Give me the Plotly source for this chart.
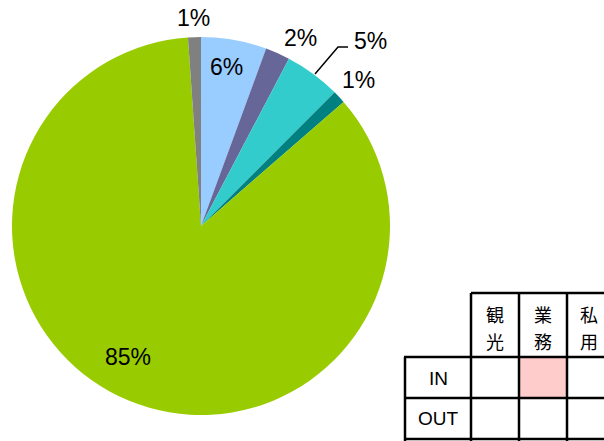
import plotly.graph_objects as go

# ---- data ----
slice_names = ["観光IN", "業務IN", "私用IN", "観光OUT", "業務OUT", "私用OUT"]
slice_values = [5.6, 2.1, 4.8, 1.1, 85.3, 1.1]
slice_labels = ["6%", "2%", "5%", "1%", "85%", "1%"]
slice_colors = ["#99CCFF", "#666699", "#33CCCC", "#008080", "#99CC00", "#808080"]

table_cols = [["観", "光"], ["業", "務"], ["私", "用"]]
table_rows = ["IN", "OUT"]

W, H = 604, 441


def px(x):
    return x / W


def py(y):
    return 1 - y / H


fig = go.Figure()
fig.add_trace(go.Pie(
    labels=slice_names,
    values=slice_values,
    marker=dict(colors=slice_colors, line=dict(width=0)),
    sort=False,
    direction="clockwise",
    rotation=0,
    textinfo="none",
    hoverinfo="label+percent",
    showlegend=False,
    domain=dict(x=[px(12), px(390)], y=[py(415), py(37)]),
))

label_pos = [(226, 67), (300, 38), (370, 41), (358, 80), (128, 357), (194, 18)]
annotations = []
for (x, y), t in zip(label_pos, slice_labels):
    annotations.append(dict(x=px(x), y=py(y), xref="paper", yref="paper", text=t,
                            showarrow=False, xanchor="center", yanchor="middle",
                            font=dict(size=23, color="black", family="Liberation Sans, Arial")))

shapes = []
# leader line for 5%
shapes.append(dict(type="path", xref="paper", yref="paper",
                   path=f"M {px(315)} {py(74)} L {px(338)} {py(47)} L {px(348)} {py(47)}",
                   line=dict(color="black", width=1.5)))

# table
lw = 2.5
shapes.append(dict(type="rect", xref="paper", yref="paper",
                   x0=px(519), x1=px(567), y0=py(398), y1=py(357),
                   fillcolor="#FFCCCC", line=dict(width=0), layer="below"))
col_x = [471, 519, 567, 615]
row_y = [293, 357, 398, 439]
shapes.append(dict(type="line", xref="paper", yref="paper", x0=px(471), x1=px(615),
                   y0=py(293), y1=py(293), line=dict(color="black", width=lw)))
for yy in row_y[1:]:
    shapes.append(dict(type="line", xref="paper", yref="paper", x0=px(404), x1=px(615),
                       y0=py(yy), y1=py(yy), line=dict(color="black", width=lw)))
shapes.append(dict(type="line", xref="paper", yref="paper", x0=px(405), x1=px(405),
                   y0=py(357), y1=py(441), line=dict(color="black", width=lw)))
for xx in col_x:
    shapes.append(dict(type="line", xref="paper", yref="paper", x0=px(xx), x1=px(xx),
                       y0=py(293), y1=py(441), line=dict(color="black", width=lw)))

cjk = "Noto Sans CJK JP"
for i, chars in enumerate(table_cols):
    cx = (col_x[i] + col_x[i + 1]) / 2 if i < 2 else 589
    for j, ch in enumerate(chars):
        annotations.append(dict(x=px(cx), y=py(314 + 27 * j), xref="paper", yref="paper",
                                text=ch, showarrow=False, xanchor="center", yanchor="middle",
                                font=dict(size=18, color="black", family=cjk)))
for r, yy in zip(table_rows, [378, 418]):
    annotations.append(dict(x=px(438), y=py(yy), xref="paper", yref="paper", text=r,
                            showarrow=False, xanchor="center", yanchor="middle",
                            font=dict(size=19, color="black", family="Liberation Sans, Arial")))

fig.update_layout(
    width=W, height=H,
    margin=dict(l=0, r=0, t=0, b=0),
    paper_bgcolor="white",
    plot_bgcolor="white",
    shapes=shapes,
    annotations=annotations,
)

fig.write_html("out.html", config={"displayModeBar": False},
               post_script="document.body.style.margin='0';document.body.style.overflow='hidden';")
